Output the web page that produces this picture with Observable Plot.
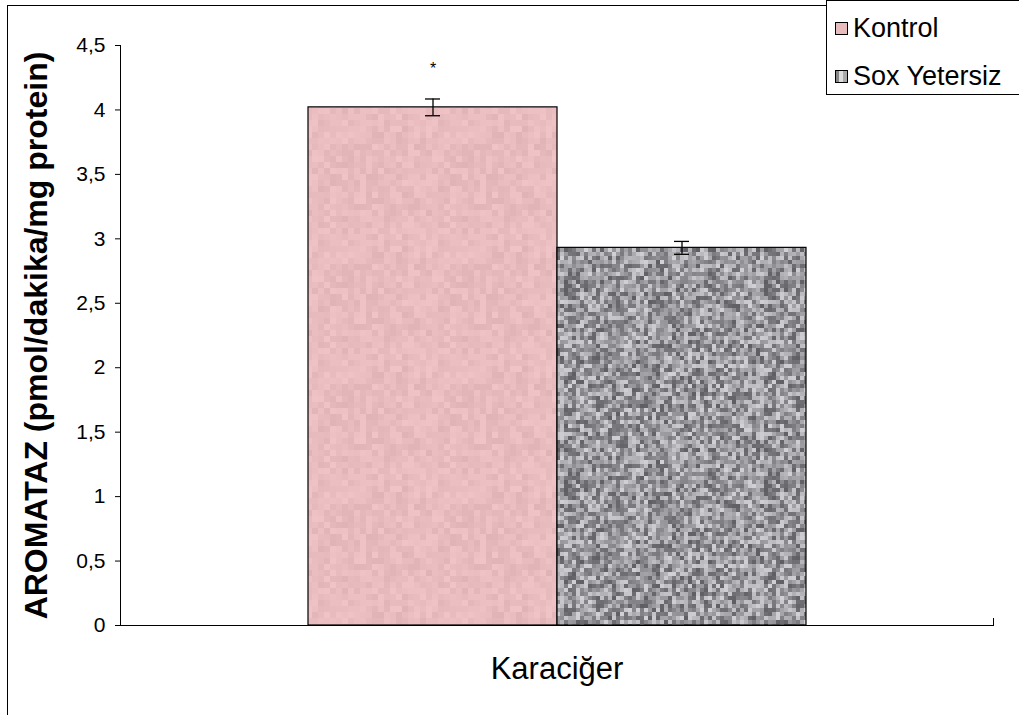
<!DOCTYPE html>
<html><head><meta charset="utf-8">
<script src="https://cdn.jsdelivr.net/npm/d3@7"></script>
<script src="https://cdn.jsdelivr.net/npm/@observablehq/plot@0.6"></script>
<style>
body{margin:0;background:#fff;font-family:"Liberation Sans",Arial,sans-serif;}
#wrap{position:relative;width:1019px;height:715px;overflow:hidden;}
#border{position:absolute;left:7px;top:5px;width:1100px;height:800px;border:1px solid #000;box-sizing:border-box;}
#legend{position:absolute;left:826px;top:0px;width:220px;height:95px;border:1px solid #000;background:#fff;box-sizing:border-box;font-size:27px;color:#000;}
.li{position:absolute;left:8px;display:flex;align-items:center;height:30px;}
.sw{width:11px;height:11px;border:1.5px solid #000;margin-right:5px;flex:none;}
#chart{position:absolute;left:0;top:0;}
</style></head>
<body><div id="wrap"><div id="border"></div><div id="chart"></div>
<div id="legend">
<div class="li" style="top:12px"><div class="sw" style="background:#e8bcbc"></div><span>Kontrol</span></div>
<div class="li" style="top:60px"><div class="sw" style="background:linear-gradient(90deg,#888 0 30%,#ddd 30% 60%,#aaa 60%)"></div><span>Sox Yetersiz</span></div>
</div></div>
<script>
const category = "Karaciğer";
const series = ["Kontrol", "Sox Yetersiz"];
const values = [4.02, 2.93];
const errors = [0.065, 0.05];
const yTicks = [0, 0.5, 1, 1.5, 2, 2.5, 3, 3.5, 4, 4.5];
const yLabel = "AROMATAZ (pmol/dakika/mg protein)";

const data = series.map((s, i) => ({s, v: values[i], lo: values[i] - errors[i], hi: values[i] + errors[i]}));

const chart = Plot.plot({
  width: 1019, height: 715,
  marginLeft: 120, marginRight: 26, marginTop: 45, marginBottom: 90,
  style: {fontFamily: "Liberation Sans, Arial, sans-serif", background: "transparent", overflow: "visible", color: "#000"},
  x: {domain: series, paddingInner: 0, paddingOuter: 0.753, axis: null},
  y: {domain: [0, 4.5], ticks: yTicks},
  color: {domain: series, range: ["url(#pinkTex)", "url(#greyTex)"]},
  marks: [
    Plot.axisY({ticks: yTicks, tickFormat: d => String(d).replace(".", ","), tickSize: 5, tickPadding: 10,
      label: yLabel, labelAnchor: "center", labelArrow: "none", labelOffset: 96}),
    Plot.barY(data, {x: "s", y: "v", fill: "s", stroke: "#000", strokeWidth: 1.2}),
    Plot.ruleX(data, {x: "s", y1: "lo", y2: "hi", stroke: "#000", strokeWidth: 1.3}),
    Plot.tickY(data, {x: "s", y: "lo", insetLeft: 117, insetRight: 117, stroke: "#000", strokeWidth: 1.3}),
    Plot.tickY(data, {x: "s", y: "hi", insetLeft: 117, insetRight: 117, stroke: "#000", strokeWidth: 1.3}),
    Plot.text(data.filter(d => d.s === "Kontrol"), {x: "s", y: "hi", text: () => "*", dy: -30, fontSize: 16}),
    Plot.ruleY([0], {stroke: "#000", strokeWidth: 1}),
    Plot.frame({anchor: "left", stroke: "#000", strokeOpacity: 1}),
    Plot.frame({anchor: "right", insetTop: 573, stroke: "#000", strokeOpacity: 1}),
    Plot.text([category], {frameAnchor: "bottom", dy: 53, fontSize: 31, text: d => d})
  ]
});

// textures
const svg = d3.select(chart);
const defs = svg.insert("defs", ":first-child");
function h(i){ let x = (i * 2654435761) >>> 0; x ^= x >>> 15; x = Math.imul(x, 2246822519) >>> 0; x ^= x >>> 13; x = Math.imul(x, 3266489917) >>> 0; x ^= x >>> 16; return (x >>> 0) / 4294967296; }
function makePattern(id, cell, n, seed, colorFn){
  const p = defs.append("pattern").attr("id", id).attr("patternUnits", "userSpaceOnUse")
    .attr("width", cell * n).attr("height", cell * n);
  for (let r = 0; r < n; r++) for (let c = 0; c < n; c++) {
    p.append("rect").attr("x", c * cell).attr("y", r * cell).attr("width", cell).attr("height", cell)
      .attr("fill", colorFn(h(seed + r * 1000 + c)));
  }
}
makePattern("pinkTex", 6, 20, 7, t => d3.rgb(224 + t * 16, 180 + t * 16, 182 + t * 16).toString());
makePattern("greyTex", 4, 50, 99, t => { const g = Math.round(95 + t * 115); return d3.rgb(g, g, g + 4).toString(); });

svg.selectAll('[aria-label="y-axis label"] text').style("font-size", "32px").style("font-weight", "bold").attr("fill", "#000");
svg.selectAll('[aria-label="y-axis tick"]').attr("stroke", "#000");
svg.selectAll('[aria-label="y-axis tick label"]').style("font-size", "21px").attr("fill", "#000");
document.getElementById("chart").appendChild(chart);
</script></body></html>
